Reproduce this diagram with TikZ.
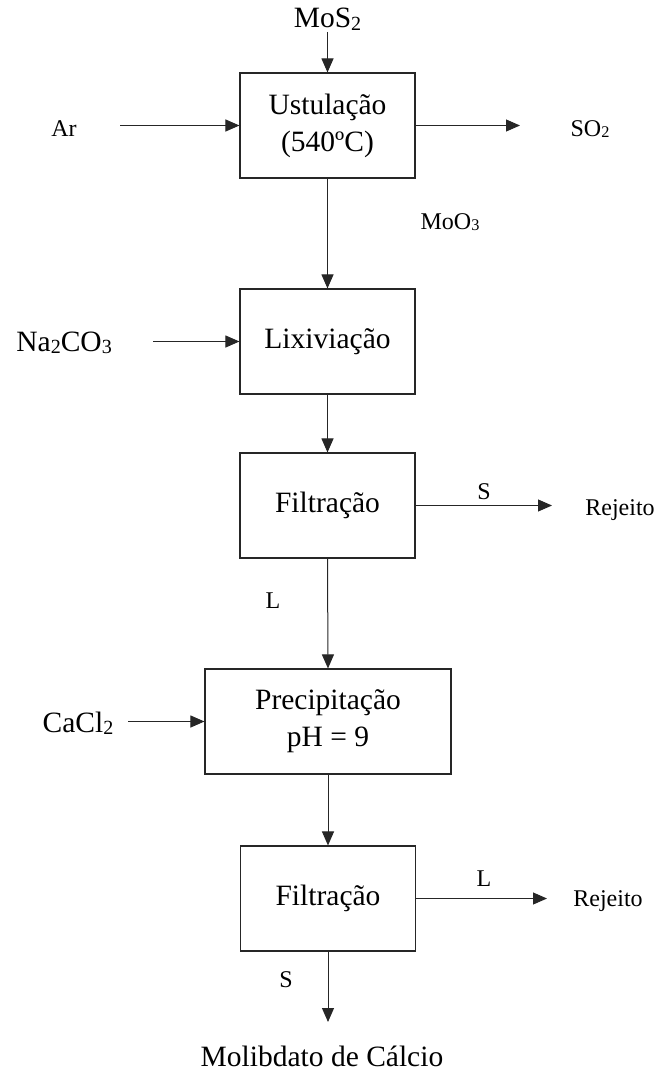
\documentclass[tikz,border=0pt]{standalone}
\usepackage{fontspec}
\usepackage{graphicx}
\setmainfont{Liberation Serif}
\usetikzlibrary{arrows.meta}
\newcommand{\sbs}[1]{\raisebox{-0.08em}{\scalebox{0.68}{#1}}}
\begin{document}
\begin{tikzpicture}[x=1pt,y=-1pt,
  proc/.style={draw=black!85,line width=1.1pt,minimum width=175pt,minimum height=105pt,inner sep=0pt,align=center,font=\fontsize{29.5}{37}\selectfont},
  big/.style={inner sep=0pt,font=\fontsize{29.5}{37}\selectfont},
  small/.style={inner sep=0pt,font=\fontsize{24}{28}\selectfont},
  flow/.style={draw=black!85,line width=1pt,-{Triangle[length=14pt,width=12pt]}},
  plain/.style={draw=black!85,line width=1pt}]
\useasboundingbox (0,0) rectangle (661,1073);
% boxes
\node[proc] (b1) at (327.5,125.5) {Ustulação\\(540ºC)};
\node[proc] (b2) at (327.5,341.5) {Lixiviação};
\node[proc] (b3) at (327.5,505.5) {Filtração};
\node[proc,minimum width=246pt] (b4) at (328,721.5) {Precipitação\\pH = 9};
\node[proc] (b5) at (328,898.5) {Filtração};
% labels
\node[big,anchor=base] (mos2) at (327.5,28) {MoS\sbs{2}};
\node[small,anchor=base] (ar) at (64,136) {Ar};
\node[small,anchor=base] (so2) at (590,136) {SO\sbs{2}};
\node[small,anchor=base] (moo3) at (450,229) {MoO\sbs{3}};
\node[big,anchor=base east] (na) at (112,351) {Na\sbs{2}CO\sbs{3}};
\node[small,anchor=base] (s1) at (484,499) {S};
\node[small,anchor=base] (rej1) at (620,515) {Rejeito};
\node[small,anchor=base] (l1) at (273,608) {L};
\node[big,anchor=base] (cacl) at (78,732) {CaCl\sbs{2}};
\node[small,anchor=base] (l2) at (484,886) {L};
\node[small,anchor=base] (rej2) at (608,906) {Rejeito};
\node[small,anchor=base] (s2) at (286,987) {S};
\node[big,anchor=base] (mol) at (322,1066) {Molibdato de Cálcio};
% free ends
\coordinate (arS) at (120,125.5);
\coordinate (so2E) at (520,125.5);
\coordinate (naS) at (153,341.5);
\coordinate (rej1E) at (552,505.5);
\coordinate (caS) at (128,721.5);
\coordinate (rej2E) at (547,898.5);
\coordinate (molE) at (328,1022);
% connectors
\draw[flow] (327.5,32) -- (b1.north);
\draw[flow] (arS) -- (b1.west);
\draw[flow] (b1.east) -- (so2E);
\draw[flow] (b1.south) -- (b2.north);
\draw[flow] (naS) -- (b2.west);
\draw[flow] (b2.south) -- (b3.north);
\draw[flow] (b3.east) -- (rej1E);
\draw[flow] (b3.south) -- (b4.north);
\draw[flow] (caS) -- (b4.west);
\draw[flow] (b4.south) -- (b5.north);
\draw[flow] (b5.east) -- (rej2E);
\draw[flow] (b5.south) -- (molE);
\end{tikzpicture}
\end{document}
